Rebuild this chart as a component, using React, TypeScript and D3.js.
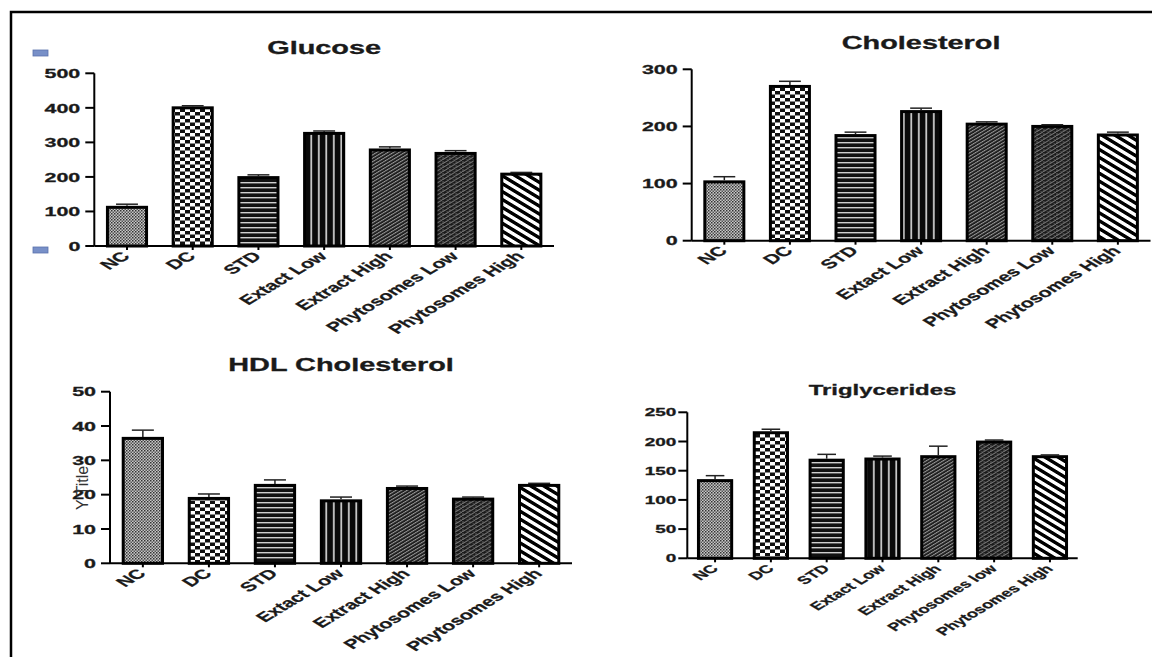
import React, { useEffect, useRef } from 'react';
import * as d3 from 'd3';

// group names (Triglycerides panel spells "low" in lower case)
const groups = ['NC', 'DC', 'STD', 'Extact Low', 'Extract High', 'Phytosomes Low', 'Phytosomes High'];
const trigGroups = ['NC', 'DC', 'STD', 'Extact Low', 'Extract High', 'Phytosomes low', 'Phytosomes High'];

// means and SEM
const glucoseMean = [112, 400, 198, 326, 278, 268, 208];
const glucoseSem = [9, 6, 8, 7, 9, 8, 5];

const cholMean = [103, 270, 184, 226, 204, 200, 185];
const cholSem = [9, 9, 6, 6, 4, 3, 5];

const hdlMean = [36.4, 18.9, 22.7, 18.2, 21.8, 18.7, 22.7];
const hdlSem = [2.4, 1.3, 1.6, 1.1, 0.7, 0.6, 0.6];

const trigMean = [133, 215, 168, 170, 174, 199, 174];
const trigSem = [8.5, 6, 10, 5, 18, 3.5, 3];

const glucoseTicks = [0, 100, 200, 300, 400, 500];
const cholTicks = [0, 100, 200, 300];
const hdlTicks = [0, 10, 20, 30, 40, 50];
const trigTicks = [0, 50, 100, 150, 200, 250];

const FONT = '"Liberation Sans", Arial, sans-serif';
const SX = 1.65; // the figure is stretched horizontally

const panels = [
  { title: 'Glucose', labels: groups, mean: glucoseMean, sem: glucoseSem, ticks: glucoseTicks,
    x0: 94.3, x1: 554, yTop: 73.3, yBottom: 246, titleY: 54, titleSize: 17.5, tickFont: 13, labelFont: 13, tickPad: 5 },
  { title: 'Cholesterol', labels: groups, mean: cholMean, sem: cholSem, ticks: cholTicks,
    x0: 691.7, x1: 1150.5, yTop: 69.3, yBottom: 240.7, titleY: 49, titleSize: 17.5, tickFont: 13, labelFont: 13, tickPad: 5 },
  { title: 'HDL Cholesterol', labels: groups, mean: hdlMean, sem: hdlSem, ticks: hdlTicks,
    x0: 110, x1: 572, yTop: 391.7, yBottom: 563.3, titleY: 371, titleSize: 17.5, tickFont: 13, labelFont: 13, tickPad: 5 },
  { title: 'Triglycerides', labels: trigGroups, mean: trigMean, sem: trigSem, ticks: trigTicks,
    x0: 687.3, x1: 1077.7, yTop: 412.3, yBottom: 558.3, titleY: 395, titleSize: 14.5, tickFont: 11.5, labelFont: 11.2, tickPad: 2 },
];

function App() {
  const svgRef = useRef<SVGSVGElement>(null);

  useEffect(() => {
    const svg = d3.select(svgRef.current);
    svg.selectAll('*').remove();

    // fill patterns, one per group
    const defs = svg.append('defs');
    const pat = (id: string, w: number, h: number, tr?: string) => {
      const p = defs.append('pattern').attr('id', id).attr('patternUnits', 'userSpaceOnUse')
        .attr('width', w).attr('height', h);
      if (tr) p.attr('patternTransform', tr);
      return p;
    };

    const p0 = pat('pat0', 3, 3);
    p0.append('rect').attr('width', 3).attr('height', 3).attr('fill', '#c8c8c8');
    p0.append('rect').attr('width', 1.5).attr('height', 1.5).attr('fill', '#333');
    p0.append('rect').attr('x', 1.5).attr('y', 1.5).attr('width', 1.5).attr('height', 1.5).attr('fill', '#555');

    const p1 = pat('pat1', 10, 7);
    p1.append('rect').attr('width', 10).attr('height', 7).attr('fill', '#111');
    p1.append('rect').attr('width', 5).attr('height', 3.5).attr('fill', '#fff');
    p1.append('rect').attr('x', 5).attr('y', 3.5).attr('width', 5).attr('height', 3.5).attr('fill', '#fff');

    const p2 = pat('pat2', 6, 5);
    p2.append('rect').attr('width', 6).attr('height', 5).attr('fill', '#111');
    p2.append('rect').attr('y', 2).attr('width', 6).attr('height', 1.4).attr('fill', '#cfcfcf');

    const p3 = pat('pat3', 7.5, 6);
    p3.append('rect').attr('width', 7.5).attr('height', 6).attr('fill', '#0a0a0a');
    p3.append('rect').attr('x', 3).attr('width', 1.6).attr('height', 6).attr('fill', '#e0e0e0');

    const p4 = pat('pat4', 2.4, 10, `scale(${SX},1) rotate(45)`);
    p4.append('rect').attr('width', 2.4).attr('height', 10).attr('fill', '#1e1e1e');
    p4.append('rect').attr('width', 0.8).attr('height', 10).attr('fill', '#9a9a9a');

    const p5 = pat('pat5', 4, 4, `scale(${SX},1)`);
    p5.append('rect').attr('width', 4).attr('height', 4).attr('fill', '#1a1a1a');
    p5.append('path').attr('d', 'M0,4 L4,0').attr('stroke', '#8a8a8a').attr('stroke-width', 0.7);
    p5.append('path').attr('d', 'M0,2 L1.2,2 M2.5,4 L3.8,4').attr('stroke', '#6a6a6a').attr('stroke-width', 0.8);

    const p6 = pat('pat6', 5.6, 10, `scale(${SX},1) rotate(-45)`);
    p6.append('rect').attr('width', 5.6).attr('height', 10).attr('fill', '#fff');
    p6.append('rect').attr('width', 2.8).attr('height', 10).attr('fill', '#000');

    // frame
    svg.append('path').attr('d', 'M11,657 L11,12 L1152,12')
      .attr('fill', 'none').attr('stroke', '#000').attr('stroke-width', 2.5);

    // little blue markers near the glucose axis
    [53, 250].forEach(yy => {
      svg.append('rect').attr('x', 33).attr('y', yy - 3).attr('width', 15).attr('height', 6)
        .attr('fill', '#7890c8').attr('stroke', '#5a72ac').attr('stroke-width', 0.8);
    });

    panels.forEach(pn => {
      const g = svg.append('g');
      const ymax = d3.max(pn.ticks) as number;

      const x = d3.scaleBand().domain(pn.labels).range([pn.x0, pn.x1]).paddingInner(0.405).paddingOuter(0.2);
      const y = d3.scaleLinear().domain([0, ymax]).range([pn.yBottom, pn.yTop]);
      const bw = x.bandwidth();

      // title
      g.append('text')
        .attr('transform', `translate(${(pn.x0 + pn.x1) / 2},${pn.titleY}) scale(${SX},1)`)
        .attr('text-anchor', 'middle').attr('font-family', FONT).attr('font-weight', 'bold')
        .attr('font-size', pn.titleSize).attr('fill', '#1a1a1a')
        .attr('stroke', '#1a1a1a').attr('stroke-width', 0.3).text(pn.title);

      // bars
      const rows = pn.labels.map((l, i) => ({ label: l, mean: pn.mean[i], sem: pn.sem[i], i }));
      g.selectAll('rect.bar').data(rows).join('rect')
        .attr('class', 'bar')
        .attr('x', d => x(d.label) as number)
        .attr('y', d => y(d.mean))
        .attr('width', bw)
        .attr('height', d => y(0) - y(d.mean))
        .attr('fill', d => `url(#pat${d.i})`)
        .attr('stroke', '#000').attr('stroke-width', 3);

      // error bars (upper only)
      const eb = g.selectAll('g.err').data(rows).join('g').attr('class', 'err')
        .attr('stroke', '#222').attr('stroke-width', 1.5);
      eb.append('line')
        .attr('x1', d => (x(d.label) as number) + bw / 2).attr('x2', d => (x(d.label) as number) + bw / 2)
        .attr('y1', d => y(d.mean) - 1.5).attr('y2', d => y(d.mean + d.sem));
      eb.append('line')
        .attr('x1', d => (x(d.label) as number) + bw * 0.22).attr('x2', d => (x(d.label) as number) + bw * 0.78)
        .attr('y1', d => y(d.mean + d.sem)).attr('y2', d => y(d.mean + d.sem));

      // y axis
      g.append('line').attr('x1', pn.x0).attr('x2', pn.x0).attr('y1', y(0)).attr('y2', y(ymax))
        .attr('stroke', '#000').attr('stroke-width', 2);
      g.selectAll('line.ytick').data(pn.ticks).join('line').attr('class', 'ytick')
        .attr('x1', pn.x0 - 9).attr('x2', pn.x0).attr('y1', d => y(d)).attr('y2', d => y(d))
        .attr('stroke', '#000').attr('stroke-width', 2);
      g.selectAll('text.ytl').data(pn.ticks).join('text').attr('class', 'ytl')
        .attr('transform', d => `translate(${pn.x0 - 9 - pn.tickPad},${y(d)}) scale(${SX},1)`)
        .attr('dy', '0.36em').attr('text-anchor', 'end')
        .attr('font-family', FONT).attr('font-weight', 'bold').attr('font-size', pn.tickFont)
        .attr('fill', '#1a1a1a').attr('stroke', '#1a1a1a').attr('stroke-width', 0.3).text(d => String(d));

      // x axis
      g.append('line').attr('x1', pn.x0).attr('x2', pn.x1).attr('y1', y(0)).attr('y2', y(0))
        .attr('stroke', '#000').attr('stroke-width', 2);
      g.selectAll('line.xtick').data(pn.labels).join('line').attr('class', 'xtick')
        .attr('x1', d => (x(d) as number) + bw / 2).attr('x2', d => (x(d) as number) + bw / 2)
        .attr('y1', y(0)).attr('y2', y(0) + 4)
        .attr('stroke', '#000').attr('stroke-width', 2);
      g.selectAll('text.xtl').data(pn.labels).join('text').attr('class', 'xtl')
        .attr('transform', d => `translate(${(x(d) as number) + bw / 2 + 4},${y(0) + 11}) scale(${SX},1) rotate(-45)`)
        .attr('text-anchor', 'end')
        .attr('font-family', FONT).attr('font-weight', 'bold').attr('font-size', pn.labelFont)
        .attr('fill', '#1a1a1a').attr('stroke', '#1a1a1a').attr('stroke-width', 0.25).text(d => d);
    });

    // stray axis title left on the HDL panel
    svg.append('text')
      .attr('transform', 'translate(88,488) rotate(-90)')
      .attr('text-anchor', 'middle').attr('font-family', FONT).attr('font-size', 16)
      .attr('fill', '#333').text('Y Title');
  }, []);

  return (
    <div style={{ position: 'absolute', left: 0, top: 0, background: '#fff' }}>
      <svg ref={svgRef} width={1152} height={657} />
    </div>
  );
}

export default App;
